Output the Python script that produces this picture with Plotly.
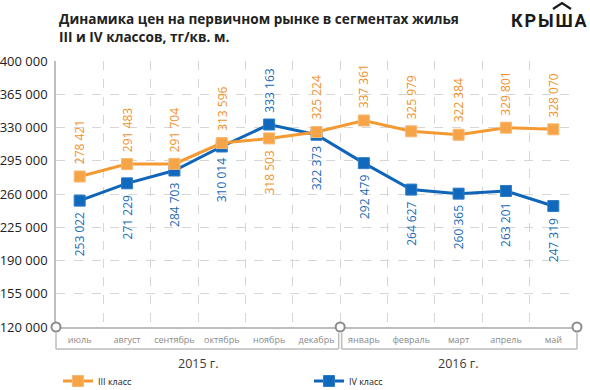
import plotly.graph_objects as go

# ---------------- data ----------------
months = ["июль", "август", "сентябрь", "октябрь", "ноябрь", "декабрь",
          "январь", "февраль", "март", "апрель", "май"]
years = ["2015 г.", "2016 г."]
year_month_counts = [6, 5]
iii_class = [278421, 291483, 291704, 313596, 318503, 325224,
             337361, 325979, 322384, 329801, 328070]
iv_class = [253022, 271229, 284703, 310014, 333163, 322373,
            292479, 264627, 260365, 263201, 247319]
y_ticks = [120000, 155000, 190000, 225000, 260000, 295000, 330000, 365000, 400000]
series_names = ["III класс", "IV класс"]
title_lines = ["Динамика цен на первичном рынке в сегментах жилья",
               "III и IV классов, тг/кв. м."]

# ---------------- geometry helpers ----------------
W, H = 590, 390
L, R, T, B = 56, 13, 61, 63
PW, PH = W - L - R, H - T - B


def px_x(px):
    return (px - L) / PW


def px_y(py):
    return (H - B - py) / PH


def fmt(v):
    return f"{v:,}".replace(",", " ")


ORANGE = "#F39A33"
ORANGE_M = "#F5A548"
ORANGE_T = "#F0922B"
BLUE = "#0F65B7"
BLUE_M = "#1069BD"
BLUE_T = "#1B6BB6"
FONT = "Open Sans"

x = list(range(len(months)))
n = len(months)

fig = go.Figure()
fig.add_trace(go.Scatter(
    x=x, y=iv_class, mode="lines+markers", name=series_names[1],
    line=dict(color=BLUE, width=3),
    marker=dict(symbol="square", size=11, color=BLUE_M, line=dict(color="#2E7CC6", width=1)),
    legendrank=2,
))
fig.add_trace(go.Scatter(
    x=x, y=iii_class, mode="lines+markers", name=series_names[0],
    line=dict(color=ORANGE, width=3),
    marker=dict(symbol="square", size=11, color=ORANGE_M, line=dict(color="#F7B872", width=1)),
    legendrank=1,
))

annotations = []
# title
annotations.append(dict(
    x=px_x(57), y=px_y(7), xref="paper", yref="paper",
    text="<b>" + "<br>".join(title_lines) + "</b>", showarrow=False, align="left",
    font=dict(family=FONT, size=13.6, color="#222"),
    xanchor="left", yanchor="top",
))
# data labels (rotated); the series with the higher value is labelled above
for i in x:
    a, b = iii_class[i], iv_class[i]
    a_above = a >= b
    for val, col, above in ((a, ORANGE_T, a_above), (b, BLUE_T, not a_above)):
        annotations.append(dict(
            x=i, y=val, xref="x", yref="y", text=fmt(val), showarrow=False,
            textangle=-90, font=dict(family=FONT, size=12, color=col),
            yanchor="bottom" if above else "top",
            yshift=10 if above else -10,
        ))

# year labels + bracket lines
shapes = []
start = 0
for yi, (yr, cnt) in enumerate(zip(years, year_month_counts)):
    x0 = start - 0.5
    x1 = start + cnt - 0.5
    p0 = L + (x0 + 0.5) / n * PW
    p1 = L + (x1 + 0.5) / n * PW
    if yi == 0:
        p1 -= 1.5
    else:
        p0 += 1.5
    yb0, yb1 = px_y(333), px_y(349)
    for xx in (p0, p1):
        shapes.append(dict(type="line", xref="paper", yref="paper",
                           x0=px_x(xx), x1=px_x(xx), y0=yb0, y1=yb1,
                           line=dict(color="#BDBDBD", width=1.5), layer="above"))
    shapes.append(dict(type="line", xref="paper", yref="paper",
                       x0=px_x(p0), x1=px_x(p1), y0=yb1, y1=yb1,
                       line=dict(color="#BDBDBD", width=1.5), layer="above"))
    annotations.append(dict(
        x=(start + (cnt - 1) / 2), y=px_y(363), xref="x", yref="paper",
        text=yr, showarrow=False, font=dict(family=FONT, size=12.5, color="#3A3A3A"),
        xanchor="center", yanchor="middle",
    ))
    start += cnt

# open circles on axis at ends and year boundary
for cx in (-0.5, year_month_counts[0] - 0.5, n - 0.5):
    shapes.append(dict(type="circle", xref="paper", yref="paper", xsizemode="pixel", ysizemode="pixel",
                       xanchor=(cx + 0.5) / n, yanchor=0, x0=-4.5, x1=4.5, y0=-4.5, y1=4.5,
                       fillcolor="white", line=dict(color="#8C8C8C", width=2), layer="above"))

# logo
annotations.append(dict(
    x=px_x(589), y=px_y(20), xref="paper", yref="paper",
    text="<b>К\u200aР\u200aЫ\u200aШ\u200aА</b>", showarrow=False,
    font=dict(family="Roboto", size=18, color="#1A1A1A"),
    xanchor="right", yanchor="middle",
))
shapes.append(dict(type="path", xref="paper", yref="paper",
                   path=f"M {px_x(553)} {px_y(9)} L {px_x(562)} {px_y(3)} L {px_x(571)} {px_y(9)}",
                   line=dict(color="#1A1A1A", width=2.2)))

fig.update_layout(
    width=W, height=H,
    margin=dict(l=L, r=R, t=T, b=B, pad=0, autoexpand=False),
    paper_bgcolor="white", plot_bgcolor="white",
    font=dict(family=FONT, color="#222"),
    xaxis=dict(
        range=[-0.5, n - 0.5],
        tickvals=x, ticktext=months,
        tickfont=dict(family=FONT, size=9, color="#8A8A8A"),
        ticks="outside", ticklen=3, tickcolor="rgba(0,0,0,0)",
        showgrid=False, zeroline=False, automargin=False,
        showline=True, linecolor="#BDBDBD", linewidth=1.5,
        minor=dict(tick0=0.5, dtick=1, showgrid=True, gridcolor="#D6D6D6",
                   griddash="dash", gridwidth=1),
        fixedrange=True,
    ),
    yaxis=dict(
        range=[y_ticks[0], y_ticks[-1]],
        tickvals=y_ticks, ticktext=[fmt(v) for v in y_ticks],
        tickfont=dict(family=FONT, size=13, color="#222"),
        ticks="outside", ticklen=4, tickcolor="rgba(0,0,0,0)",
        showgrid=True, gridcolor="#D6D6D6", griddash="dash", gridwidth=1,
        zeroline=False, showline=True, linecolor="#BDBDBD", linewidth=1.5,
        automargin=False, fixedrange=True,
    ),
    showlegend=True,
    legend=dict(
        orientation="h", x=px_x(58), xanchor="left", y=px_y(381), yanchor="middle",
        font=dict(family=FONT, size=9, color="#222"),
        entrywidth=206, entrywidthmode="pixels",
        bgcolor="rgba(0,0,0,0)", itemclick=False,
    ),
    annotations=annotations,
    shapes=shapes,
)

fig.write_html(
    "out.html",
    config={"displayModeBar": False},
    post_script="document.body.style.margin='0';document.body.style.padding='0';",
)
